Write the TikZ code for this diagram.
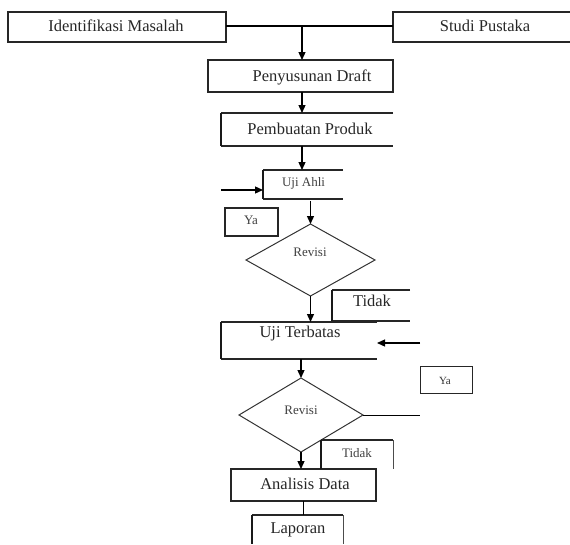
\documentclass[tikz,border=0pt]{standalone}
\usepackage{fontspec}
\setmainfont{Liberation Serif}
\usetikzlibrary{arrows.meta,shapes.geometric}
\begin{document}
\begin{tikzpicture}[x=1pt,y=-1pt,
  box/.style={draw=black!85, line width=1.1pt, inner sep=0pt, outer sep=0pt, rectangle},
  openbox/.style={draw=none, inner sep=0pt, outer sep=0pt, rectangle},
  dia/.style={diamond, draw=black!80, line width=1pt, inner sep=0pt, outer sep=0pt},
  big/.style={font=\fontsize{16.5}{18}\selectfont, text=black!85, inner sep=0pt, text height=11pt, text depth=3pt},
  small/.style={font=\fontsize{13}{15}\selectfont, text=black!75, inner sep=0pt, text height=9pt, text depth=2.5pt},
  tiny/.style={font=\fontsize{11}{13}\selectfont, text=black!80, inner sep=0pt, text height=8pt, text depth=2pt},
  conn/.style={line width=1.3pt, draw=black},
  arr/.style={conn, -{Triangle[length=8pt,width=7pt]}},
  side/.style={line width=1.1pt, draw=black!85},
  heavyside/.style={line width=1.9pt, draw=black!90},
  thinside/.style={line width=0.7pt, draw=black!70},
]
\useasboundingbox (0,0) rectangle (570,544);

% boxes
\node[box, minimum width=218pt, minimum height=30pt] (im) at (117,27) {};
\node[openbox, minimum width=177pt, minimum height=30pt] (st) at (481.5,27) {};
\node[box, minimum width=185pt, minimum height=32pt] (pd) at (300.5,76) {};
\node[openbox, minimum width=172pt, minimum height=33pt] (pb) at (307,129.5) {};
\node[openbox, minimum width=80pt, minimum height=29pt] (ua) at (303,184.5) {};
\node[box, minimum width=53pt, minimum height=28pt] (ya1) at (251.5,222) {};
\node[dia, minimum width=129pt, minimum height=72pt] (d1) at (310.5,260) {};
\node[openbox, minimum width=78pt, minimum height=31pt] (td1) at (371,305.5) {};
\node[openbox, minimum width=156pt, minimum height=37pt] (ut) at (299,340.5) {};
\node[box, line width=1pt, minimum width=52pt, minimum height=27pt] (ya2) at (446,379.5) {};
\node[dia, minimum width=124pt, minimum height=74pt] (d2) at (301,415) {};
\node[openbox, minimum width=72pt, minimum height=29pt] (td2) at (357,454.5) {};
\node[box, minimum width=145pt, minimum height=32pt] (an) at (303.5,485) {};
\node[openbox, minimum width=91pt, minimum height=33pt] (lp) at (297.5,531.5) {};

% open box sides
\draw[side] (st.north east) -- (st.north west) -- (st.south west) -- (st.south east);
\draw[side] (pb.north east) -- (pb.north west) (pb.south west) -- (pb.south east);
\draw[heavyside] (pb.north west) -- (pb.south west);
\draw[side] (ua.north east) -- (ua.north west) (ua.south west) -- (ua.south east);
\draw[heavyside] (ua.north west) -- (ua.south west);
\draw[side] (td1.north east) -- (td1.north west) (td1.south west) -- (td1.south east);
\draw[heavyside] (td1.north west) -- (td1.south west);
\draw[side] (ut.north east) -- (ut.north west) (ut.south west) -- (ut.south east);
\draw[heavyside] (ut.north west) -- (ut.south west);
\draw[side] (td2.north west) -- (td2.north east);
\draw[heavyside] (td2.north west) -- (td2.south west);
\draw[thinside] (td2.north east) -- (td2.south east);
\draw[side] (lp.north west) -- (lp.north east);
\draw[heavyside] (lp.north west) -- (lp.north west |- 0,544);
\draw[thinside] (lp.north east) -- (lp.north east |- 0,544);

% labels
\node[big] (tim) at (116,27) {Identifikasi Masalah};
\node[big] (tst) at (485,27) {Studi Pustaka};
\node[big] (tpd) at (312,77) {Penyusunan Draft};
\node[big] (tpb) at (310,130) {Pembuatan Produk};
\node[small] (tua) at (303.5,183) {Uji Ahli};
\node[small] (tya1) at (251,221) {Ya};
\node[small] (td1t) at (310,253) {Revisi};
\node[big] (ttd1) at (372,302) {Tidak};
\node[big] (tut) at (300,333) {Uji Terbatas};
\node[tiny] (tya2) at (445,381) {Ya};
\node[small] (td2t) at (301,411) {Revisi};
\node[small] (ttd2) at (357,454) {Tidak};
\node[big] (tan) at (305,485) {Analisis Data};
\node[big] (tlp) at (298,529) {Laporan};

% connectors
\coordinate (j) at (302,26);
\coordinate (ualeft) at (221,190);
\coordinate (utright) at (420,343);
\coordinate (d2end) at (420,415);
\draw[conn] (im.east |- j) -- (st.west |- j);
\draw[arr] (j) -- (j |- pd.north);
\draw[arr] (j |- pd.south) -- (j |- pb.north);
\draw[conn] (j |- pb.south) -- (j |- 0,160);
\draw[arr] (j |- 0,160) -- (j |- ua.north);
\draw[arr] (ualeft) -- (ualeft -| ua.west);
\draw[arr, shorten <=2pt] (d1.north |- ua.south) -- (d1.north);
\draw[arr] (d1.south) -- (d1.south |- ut.north);
\draw[arr] (utright) -- (utright -| ut.east);
\draw[arr] (d2.north |- ut.south) -- (d2.north);
\draw[conn, line width=1pt] (d2.east) -- (d2end);
\draw[arr] (d2.south) -- (d2.south |- an.north);
\draw[conn, line width=1.1pt] (an.south) -- (an.south |- lp.north);
\end{tikzpicture}
\end{document}
